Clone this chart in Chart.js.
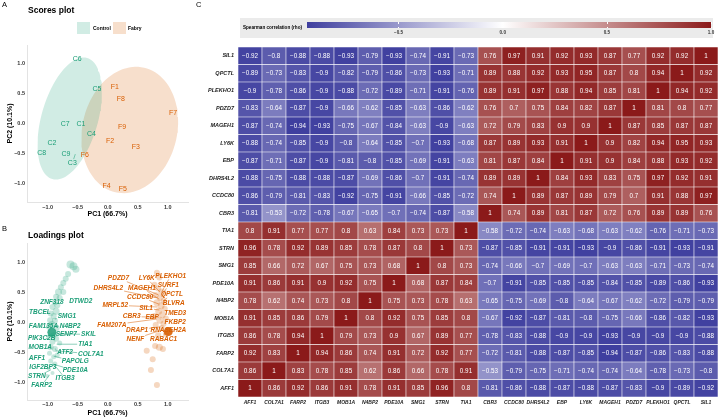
<!DOCTYPE html>
<html>
<head>
<meta charset="utf-8">
<script src="https://cdn.jsdelivr.net/npm/chart.js@4.4.0/dist/chart.umd.min.js"></script>
<style>
  body { margin: 0; width: 719px; height: 417px; overflow: hidden; position: relative; background: #fff;
         font-family: "Liberation Sans", Arial, sans-serif; }
  canvas { position: absolute; }
  .t { position: absolute; white-space: nowrap; line-height: 1; color: #000; }
  .b { font-weight: bold; }
  .sq { position: absolute; width: 13px; height: 12px; }
</style>
</head>
<body>
<canvas id="scores" width="197" height="220" style="left:0;top:0"></canvas>
<canvas id="loadings" width="197" height="197" style="left:0;top:220px"></canvas>
<canvas id="heat" width="522" height="417" style="left:197px;top:0"></canvas>

<div class="t" style="left:2px;top:1px;font-size:7.5px">A</div>
<div class="t b" style="left:28px;top:6px;font-size:8.5px">Scores plot</div>
<div class="sq" style="left:77px;top:22px;background:rgba(27,158,119,0.2)"></div>
<div class="t b" style="left:93px;top:26px;font-size:5px">Control</div>
<div class="sq" style="left:113px;top:22px;background:rgba(217,95,2,0.2)"></div>
<div class="t b" style="left:128px;top:26px;font-size:5px">Fabry</div>

<div class="t" style="left:2px;top:225px;font-size:7.5px">B</div>
<div class="t b" style="left:28px;top:231px;font-size:8.5px">Loadings plot</div>

<div class="t" style="left:196px;top:1px;font-size:7.5px">C</div>
<div id="cbar" style="position:absolute;left:240px;top:18px;width:473px;height:20px;background:#ebebeb"></div>
<div class="t b" style="left:243px;top:26px;font-size:4.6px">Spearman correlation (rho)</div>
<div id="grad" style="position:absolute;left:307px;top:22px;width:404px;height:6px"></div>
<div id="cticks"></div>

<script>
// Colours (ggplot Dark2 pair)
const teal = '#1B9E77';
const orange = '#D95F02';
const font = '"Liberation Sans", Arial, sans-serif';

// ---- Scores plot data ----
const scoreNames = ['C1', 'C2', 'C3', 'C4', 'C5', 'C6', 'C7', 'C8', 'C9',
                    'F1', 'F2', 'F3', 'F4', 'F5', 'F6', 'F7', 'F8', 'F9'];
const scoreGroup = ['Control', 'Control', 'Control', 'Control', 'Control', 'Control', 'Control', 'Control', 'Control',
                    'Fabry', 'Fabry', 'Fabry', 'Fabry', 'Fabry', 'Fabry', 'Fabry', 'Fabry', 'Fabry'];
const scoreX = [-0.445, -0.93, -0.59, -0.27, -0.18, -0.51, -0.71, -1.10, -0.695,
                0.12, 0.04, 0.47, -0.02, 0.25, -0.38, 1.09, 0.22, 0.24];
const scoreY = [-0.01, -0.32, -0.66, -0.18, 0.57, 1.07, -0.01, -0.49, -0.51,
                0.60, -0.29, -0.40, -1.04, -1.09, -0.525, 0.18, 0.41, -0.06];
// repelled label C3 points back to its sample
const scoreLeaderName = ['C3'];
const scoreLeaderX = [-0.54];
const scoreLeaderY = [-0.51];

// confidence ellipses (centre, semi axes, angle in degrees)
const ellipseGroup = ['Control', 'Fabry'];
const ellipseCx = [-0.633, 0.367];
const ellipseCy = [0.083, -0.108];
const ellipseA = [1.05, 1.065];
const ellipseB = [0.47, 0.79];
const ellipseAngle = [74, 77];

const pcTicks = [-1, -0.5, 0, 0.5, 1];

// ---- Loadings plot data ----
const greenLoadX = [-0.62, -0.57, -0.53, -0.66, -0.70, -0.74, -0.78, -0.74, -0.82, -0.86, -0.80, -0.88, -0.84, -0.92,
                    -0.86, -0.95, -0.90, -0.96, -0.88, -0.93, -0.98, -0.85, -0.90, -0.97, -0.86, -0.92, -0.80, -0.95,
                    -0.88, -0.97, -0.90, -0.84, -0.95, -0.88, -0.98, -1.01, -0.92];
const greenLoadY = [0.96, 0.93, 0.88, 0.80, 0.72, 0.65, 0.58, 0.50, 0.50, 0.42, 0.40, 0.33, 0.28, 0.25,
                    0.18, 0.14, 0.10, 0.03, 0.02, -0.04, -0.08, -0.10, -0.22, -0.25, -0.28, -0.33, -0.35, -0.42,
                    -0.45, -0.52, -0.58, -0.55, -0.65, -0.70, -0.78, -0.90, -0.85];
const greenLoadContrib = [4, 4, 3.5, 3, 3, 3, 3, 3, 3.5, 3, 3, 3, 3, 3,
                          3.5, 3, 3, 3, 3, 3.5, 3, 3, 3, 3, 3, 3, 2.5, 3,
                          3, 2.5, 2.5, 2.5, 2.5, 2.5, 2, 2, 2];
const orangeLoadX = [0.82, 0.86, 0.78, 0.84, 0.90, 0.80, 0.87, 0.93, 0.82, 0.89, 0.95, 0.85, 0.91, 0.78,
                     0.97, 0.87, 0.93, 0.80, 0.90, 0.97, 0.84, 0.79, 0.92, 0.86, 0.65, 0.75, 0.72, 0.82];
const orangeLoadY = [0.82, 0.74, 0.62, 0.56, 0.50, 0.45, 0.40, 0.35, 0.32, 0.27, 0.22, 0.18, 0.12, 0.10,
                     0.06, 0.03, -0.03, -0.05, -0.10, -0.20, -0.22, -0.40, -0.45, -0.42, -0.48, -0.62, -0.80, -1.05];
const orangeLoadContrib = [3, 3, 3, 3, 3.5, 3, 3, 3, 3.5, 3.5, 3, 3.5, 3.5, 3,
                           3, 3.5, 3, 3, 3, 3, 3, 3, 3, 3.5, 3, 3, 3, 3];
// highlighted loadings
const bigLoadX = [-0.93, 1.01];
const bigLoadY = [-0.17, -0.16];
const bigLoadGroup = ['Control', 'Fabry'];

// gene labels of the loadings plot with the point each one points to
const loadNames = ['ZNF318', 'DTWD2', 'TBCEL', 'SMG1', 'FAM135A', 'N4BP2', 'PIK3C2B', 'SENP7', 'SKIL', 'TIA1',
                   'MOB1A', 'ATF2', 'COL7A1', 'AFF1', 'PAPOLG', 'IGF2BP3', 'PDE10A', 'STRN', 'ITGB3', 'FARP2',
                   'PDZD7', 'LY6K', 'PLEKHO1', 'DHRS4L2', 'MAGEH1', 'SURF1', 'CCDC80', 'QPCTL', 'MRPL52', 'SIL1',
                   'BLVRA', 'CBR3', 'EBP', 'TMED3', 'FAM207A', 'FKBP2', 'DRAP1', 'RNASEH2A', 'NENF', 'RABAC1'];
const loadGroup = loadNames.map((n, i) => i < 20 ? 'Control' : 'Fabry');
const loadLabelX = [-0.93, -0.45, -1.13, -0.68, -1.07, -0.625, -1.10, -0.69, -0.32, -0.375,
                    -1.125, -0.71, -0.28, -1.18, -0.54, -1.08, -0.54, -1.18, -0.71, -1.10,
                    0.18, 0.65, 1.05, 0.01, 0.57, 1.01, 0.54, 1.07, 0.125, 0.64,
                    1.10, 0.40, 0.74, 1.125, 0.07, 1.125, 0.49, 1.01, 0.46, 0.93];
const loadLabelY = [0.33, 0.35, 0.17, 0.09, -0.07, -0.07, -0.27, -0.205, -0.205, -0.37,
                    -0.42, -0.495, -0.53, -0.595, -0.66, -0.755, -0.81, -0.91, -0.94, -1.06,
                    0.73, 0.73, 0.77, 0.57, 0.57, 0.62, 0.42, 0.46, 0.28, 0.23,
                    0.31, 0.09, 0.08, 0.145, -0.05, -0.005, -0.13, -0.13, -0.28, -0.28];
const loadAnchorX = [null, null, null, -0.88, null, -0.90, null, null, -0.86, -0.85,
                     null, -0.88, -0.87, null, -0.90, null, -0.92, -0.95, -0.86, -0.97,
                     0.85, 0.87, 0.90, 0.83, 0.86, 0.90, 0.85, 0.92, 0.83, 0.86,
                     0.92, 0.85, 0.88, 0.93, 0.82, 0.95, 0.88, null, 0.85, 0.95];
const loadAnchorY = [null, null, null, 0.05, null, -0.07, null, null, -0.20, -0.37,
                     null, -0.45, -0.48, null, -0.57, null, -0.70, -0.80, -0.75, -0.88,
                     0.45, 0.50, 0.50, 0.40, 0.38, 0.42, 0.30, 0.35, 0.25, 0.20,
                     0.25, 0.08, 0.05, 0.10, 0.05, 0.00, -0.08, null, -0.15, -0.18];

// ---- Correlation heatmap data (rows and columns in the same order, bottom row first) ----
const genes = ['AFF1', 'COL7A1', 'FARP2', 'ITGB3', 'MOB1A', 'N4BP2', 'PDE10A', 'SMG1', 'STRN', 'TIA1',
               'CBR3', 'CCDC80', 'DHRS4L2', 'EBP', 'LY6K', 'MAGEH1', 'PDZD7', 'PLEKHO1', 'QPCTL', 'SIL1'];
const corr = [
  [1, 0.86, 0.92, 0.86, 0.91, 0.78, 0.91, 0.85, 0.96, 0.8, -0.81, -0.86, -0.88, -0.87, -0.88, -0.87, -0.83, -0.9, -0.89, -0.92],
  [0.86, 1, 0.83, 0.78, 0.85, 0.62, 0.86, 0.66, 0.78, 0.91, -0.53, -0.79, -0.75, -0.71, -0.74, -0.74, -0.64, -0.78, -0.73, -0.8],
  [0.92, 0.83, 1, 0.94, 0.86, 0.74, 0.91, 0.72, 0.92, 0.77, -0.72, -0.81, -0.88, -0.87, -0.85, -0.94, -0.87, -0.86, -0.83, -0.88],
  [0.86, 0.78, 0.94, 1, 0.79, 0.73, 0.9, 0.67, 0.89, 0.77, -0.78, -0.83, -0.88, -0.9, -0.9, -0.93, -0.9, -0.9, -0.9, -0.88],
  [0.91, 0.85, 0.86, 0.79, 1, 0.8, 0.92, 0.75, 0.85, 0.8, -0.67, -0.92, -0.87, -0.81, -0.8, -0.75, -0.66, -0.86, -0.82, -0.93],
  [0.78, 0.62, 0.74, 0.73, 0.8, 1, 0.75, 0.73, 0.78, 0.63, -0.65, -0.75, -0.69, -0.8, -0.64, -0.67, -0.62, -0.72, -0.79, -0.79],
  [0.91, 0.86, 0.91, 0.9, 0.92, 0.75, 1, 0.68, 0.87, 0.84, -0.7, -0.91, -0.85, -0.85, -0.85, -0.84, -0.85, -0.89, -0.86, -0.93],
  [0.85, 0.66, 0.72, 0.67, 0.75, 0.73, 0.68, 1, 0.8, 0.73, -0.74, -0.66, -0.7, -0.69, -0.7, -0.63, -0.63, -0.71, -0.73, -0.74],
  [0.96, 0.78, 0.92, 0.89, 0.85, 0.78, 0.87, 0.8, 1, 0.73, -0.87, -0.85, -0.91, -0.91, -0.93, -0.9, -0.86, -0.91, -0.93, -0.91],
  [0.8, 0.91, 0.77, 0.77, 0.8, 0.63, 0.84, 0.73, 0.73, 1, -0.58, -0.72, -0.74, -0.63, -0.68, -0.63, -0.62, -0.76, -0.71, -0.73],
  [-0.81, -0.53, -0.72, -0.78, -0.67, -0.65, -0.7, -0.74, -0.87, -0.58, 1, 0.74, 0.89, 0.81, 0.87, 0.72, 0.76, 0.89, 0.89, 0.76],
  [-0.86, -0.79, -0.81, -0.83, -0.92, -0.75, -0.91, -0.66, -0.85, -0.72, 0.74, 1, 0.89, 0.87, 0.89, 0.79, 0.7, 0.91, 0.88, 0.97],
  [-0.88, -0.75, -0.88, -0.88, -0.87, -0.69, -0.86, -0.7, -0.91, -0.74, 0.89, 0.89, 1, 0.84, 0.93, 0.83, 0.75, 0.97, 0.92, 0.91],
  [-0.87, -0.71, -0.87, -0.9, -0.81, -0.8, -0.85, -0.69, -0.91, -0.63, 0.81, 0.87, 0.84, 1, 0.91, 0.9, 0.84, 0.88, 0.93, 0.92],
  [-0.88, -0.74, -0.85, -0.9, -0.8, -0.64, -0.85, -0.7, -0.93, -0.68, 0.87, 0.89, 0.93, 0.91, 1, 0.9, 0.82, 0.94, 0.95, 0.93],
  [-0.87, -0.74, -0.94, -0.93, -0.75, -0.67, -0.84, -0.63, -0.9, -0.63, 0.72, 0.79, 0.83, 0.9, 0.9, 1, 0.87, 0.85, 0.87, 0.87],
  [-0.83, -0.64, -0.87, -0.9, -0.66, -0.62, -0.85, -0.63, -0.86, -0.62, 0.76, 0.7, 0.75, 0.84, 0.82, 0.87, 1, 0.81, 0.8, 0.77],
  [-0.9, -0.78, -0.86, -0.9, -0.88, -0.72, -0.89, -0.71, -0.91, -0.76, 0.89, 0.91, 0.97, 0.88, 0.94, 0.85, 0.81, 1, 0.94, 0.92],
  [-0.89, -0.73, -0.83, -0.9, -0.82, -0.79, -0.86, -0.73, -0.93, -0.71, 0.89, 0.88, 0.92, 0.93, 0.95, 0.87, 0.8, 0.94, 1, 0.92],
  [-0.92, -0.8, -0.88, -0.88, -0.93, -0.79, -0.93, -0.74, -0.91, -0.73, 0.76, 0.97, 0.91, 0.92, 0.93, 0.87, 0.77, 0.92, 0.92, 1]
];
const rhoTicks = [-0.5, 0, 0.5, 1];

// colour scale: blue - white - dark red, limits from the data
const lowCol = [63, 63, 159];
const highCol = [139, 26, 26];
const rhoMin = -0.94, rhoMax = 1;
function fillFor(v) {
  const end = v < 0 ? lowCol : highCol;
  const t = v < 0 ? v / rhoMin : v / rhoMax;
  const c = end.map(e => Math.round(255 + (e - 255) * t));
  return `rgb(${c[0]},${c[1]},${c[2]})`;
}

const fmtAxis = v => (v < 0 ? '\u2212' : '') + Math.abs(v).toFixed(1);
const fmtRho = v => (v < 0 ? '\u2212' : '') + String(Math.abs(v));
const groupColor = g => g === 'Control' ? teal : orange;

// line from a point to the edge of a label box
function drawLeader(ctx, ax, ay, cx, cy, hw, hh, color) {
  const dx = ax - cx, dy = ay - cy;
  const s = Math.min(Math.abs(dx) > 0 ? hw / Math.abs(dx) : Infinity, Math.abs(dy) > 0 ? hh / Math.abs(dy) : Infinity);
  if (s >= 1) return;
  ctx.strokeStyle = color;
  ctx.lineWidth = 0.5;
  ctx.beginPath();
  ctx.moveTo(cx + dx * s, cy + dy * s);
  ctx.lineTo(ax, ay);
  ctx.stroke();
}

function pcAxes(xTitle, yTitle, yMin, yMax, xHeight, xPad, titleBottom) {
  const tickFont = { family: font, size: 5.5, weight: 'bold' };
  return {
    x: {
      type: 'linear', min: -1.345, max: 1.338,
      afterBuildTicks: s => { s.ticks = pcTicks.map(v => ({ value: v })); },
      afterFit: s => { s.height = xHeight; },
      ticks: { font: tickFont, color: '#333', padding: xPad, callback: fmtAxis, maxRotation: 0 },
      grid: { display: false, drawTicks: false },
      border: { color: '#e3e3e3', width: 1 },
      title: { display: true, text: xTitle, font: { family: font, size: 7, weight: 'bold' }, color: '#000',
               padding: { top: 0, bottom: titleBottom } }
    },
    y: {
      type: 'linear', min: yMin, max: yMax,
      afterBuildTicks: s => { s.ticks = pcTicks.map(v => ({ value: v })); },
      afterFit: s => { s.width = 27; },
      ticks: { font: tickFont, color: '#333', padding: 2, callback: fmtAxis },
      grid: { display: false, drawTicks: false },
      border: { color: '#e3e3e3', width: 1 },
      title: { display: true, text: yTitle, font: { family: font, size: 7, weight: 'bold' }, color: '#000',
               padding: { top: 6, bottom: 0 } }
    }
  };
}

// ---- A: scores plot ----
function ellipsePoints(i) {
  const pts = [];
  const phi = ellipseAngle[i] * Math.PI / 180;
  for (let k = 0; k <= 100; k++) {
    const t = k / 100 * 2 * Math.PI;
    const u = ellipseA[i] * Math.cos(t), w = ellipseB[i] * Math.sin(t);
    pts.push({ x: ellipseCx[i] + u * Math.cos(phi) - w * Math.sin(phi),
               y: ellipseCy[i] + u * Math.sin(phi) + w * Math.cos(phi) });
  }
  return pts;
}

const scoreLabels = {
  id: 'scoreLabels',
  afterDatasetsDraw(chart) {
    const ctx = chart.ctx;
    const meta = chart.getDatasetMeta(2);
    const { x, y } = chart.scales;
    ctx.save();
    ctx.font = `7px ${font}`;
    ctx.textAlign = 'center';
    ctx.textBaseline = 'middle';
    meta.data.forEach((pt, i) => {
      const col = groupColor(scoreGroup[i]);
      const li = scoreLeaderName.indexOf(scoreNames[i]);
      if (li >= 0) {
        const hw = ctx.measureText(scoreNames[i]).width / 2 + 1;
        drawLeader(ctx, x.getPixelForValue(scoreLeaderX[li]), y.getPixelForValue(scoreLeaderY[li]), pt.x, pt.y, hw, 4, col);
      }
      ctx.fillStyle = col;
      ctx.fillText(scoreNames[i], pt.x, pt.y);
    });
    ctx.restore();
  }
};

new Chart(document.getElementById('scores'), {
  type: 'scatter',
  data: {
    datasets: [
      ...ellipseGroup.map((g, i) => ({
        data: ellipsePoints(i), showLine: true, fill: 'shape', pointRadius: 0, borderWidth: 0,
        borderColor: 'rgba(0,0,0,0)', backgroundColor: g === 'Control' ? 'rgba(27,158,119,0.2)' : 'rgba(217,95,2,0.2)'
      })),
      { data: scoreX.map((v, i) => ({ x: v, y: scoreY[i] })), pointRadius: 0 }
    ]
  },
  options: {
    responsive: false, animation: false, events: [],
    layout: { padding: { left: 0, top: 45, right: 9, bottom: 0 } },
    plugins: { legend: { display: false }, tooltip: { enabled: false } },
    scales: pcAxes('PC1 (66.7%)', 'PC2 (10.1%)', -1.308, 1.308, 18, 2, 2)
  },
  plugins: [scoreLabels]
});

// ---- B: loadings plot ----
const loadLabels = {
  id: 'loadLabels',
  afterDatasetsDraw(chart) {
    const ctx = chart.ctx;
    const { x, y } = chart.scales;
    ctx.save();
    ctx.font = `italic bold 6.5px ${font}`;
    ctx.textAlign = 'center';
    ctx.textBaseline = 'middle';
    loadNames.forEach((n, i) => {
      const col = groupColor(loadGroup[i]);
      const cx = x.getPixelForValue(loadLabelX[i]), cy = y.getPixelForValue(loadLabelY[i]);
      if (loadAnchorX[i] !== null) {
        const hw = ctx.measureText(n).width / 2 + 1;
        drawLeader(ctx, x.getPixelForValue(loadAnchorX[i]), y.getPixelForValue(loadAnchorY[i]), cx, cy, hw, 3.5, col);
      }
    });
    loadNames.forEach((n, i) => {
      ctx.fillStyle = groupColor(loadGroup[i]);
      ctx.fillText(n, x.getPixelForValue(loadLabelX[i]), y.getPixelForValue(loadLabelY[i]));
    });
    ctx.restore();
  }
};

new Chart(document.getElementById('loadings'), {
  type: 'scatter',
  data: {
    datasets: [
      { data: greenLoadX.map((v, i) => ({ x: v, y: greenLoadY[i] })),
        pointRadius: c => greenLoadContrib[c.dataIndex], borderWidth: 0, backgroundColor: 'rgba(27,158,119,0.25)' },
      { data: orangeLoadX.map((v, i) => ({ x: v, y: orangeLoadY[i] })),
        pointRadius: c => orangeLoadContrib[c.dataIndex], borderWidth: 0, backgroundColor: 'rgba(217,95,2,0.25)' },
      { data: bigLoadX.map((v, i) => ({ x: v, y: bigLoadY[i] })),
        pointRadius: 4.5, borderWidth: 0,
        backgroundColor: bigLoadGroup.map(g => g === 'Control' ? 'rgba(27,158,119,0.85)' : 'rgba(217,95,2,0.9)') }
    ]
  },
  options: {
    responsive: false, animation: false, events: [],
    layout: { padding: { left: 0, top: 23, right: 9, bottom: 0 } },
    plugins: { legend: { display: false }, tooltip: { enabled: false } },
    scales: pcAxes('PC1 (66.7%)', 'PC2 (10.1%)', -1.3, 1.317, 17, 1.5, 0)
  },
  plugins: [loadLabels]
});

// ---- C: correlation heatmap ----
const cellText = {
  id: 'cellText',
  afterDatasetsDraw(chart) {
    const ctx = chart.ctx;
    ctx.save();
    ctx.font = `6.3px ${font}`;
    ctx.fillStyle = '#fff';
    ctx.textAlign = 'center';
    ctx.textBaseline = 'middle';
    chart.data.datasets.forEach((ds, i) => {
      chart.getDatasetMeta(i).data.forEach((bar, j) => {
        ctx.fillText(fmtRho(corr[i][j]), bar.x, (bar.y + bar.base) / 2 + 0.3);
      });
    });
    ctx.restore();
  }
};

new Chart(document.getElementById('heat'), {
  type: 'bar',
  data: {
    labels: genes,
    datasets: genes.map((g, i) => ({
      label: g,
      data: genes.map(() => [i - 0.5, i + 0.5]),
      backgroundColor: corr[i].map(fillFor),
      borderColor: '#fff', borderWidth: 0.6, borderSkipped: false,
      barPercentage: 1, categoryPercentage: 1
    }))
  },
  options: {
    responsive: false, animation: false, events: [],
    layout: { padding: { left: 0, top: 47, right: 1, bottom: 0 } },
    plugins: { legend: { display: false }, tooltip: { enabled: false } },
    scales: {
      x: {
        stacked: true,
        afterFit: s => { s.height = 20; },
        ticks: { font: { family: font, size: 5, weight: 'bold', style: 'italic' }, color: '#222',
                 padding: 3, maxRotation: 0, autoSkip: false },
        grid: { display: false, drawTicks: false }, border: { display: false }
      },
      y: {
        type: 'linear', min: -0.5, max: 19.5, stacked: false,
        afterBuildTicks: s => { s.ticks = genes.map((g, i) => ({ value: i })); },
        afterFit: s => { s.width = 41; },
        ticks: { font: { family: font, size: 5.5, weight: 'bold', style: 'italic' }, color: '#222',
                 padding: 4, callback: v => genes[v] },
        grid: { display: false, drawTicks: false }, border: { display: false }
      }
    }
  },
  plugins: [cellText]
});

// colour bar legend
const gradLeft = 307, gradWidth = 404;
const zeroPct = (0 - rhoMin) / (rhoMax - rhoMin) * 100;
document.getElementById('grad').style.background =
  `linear-gradient(to right, rgb(${lowCol}) 0%, #fff ${zeroPct}%, rgb(${highCol}) 100%)`;
const tickBox = document.getElementById('cticks');
rhoTicks.forEach(v => {
  const px = gradLeft + (v - rhoMin) / (rhoMax - rhoMin) * gradWidth;
  const lab = document.createElement('div');
  lab.className = 't b';
  lab.style.cssText = `left:${px - 10}px;top:31px;width:20px;text-align:center;font-size:4.6px;color:#333`;
  lab.textContent = fmtAxis(v);
  tickBox.appendChild(lab);
  ['22px', '26.5px'].forEach(top => {
    const tk = document.createElement('div');
    tk.style.cssText = `position:absolute;left:${px - 0.3}px;top:${top};width:0.6px;height:1.5px;background:#fff`;
    tickBox.appendChild(tk);
  });
});
</script>
</body>
</html>
